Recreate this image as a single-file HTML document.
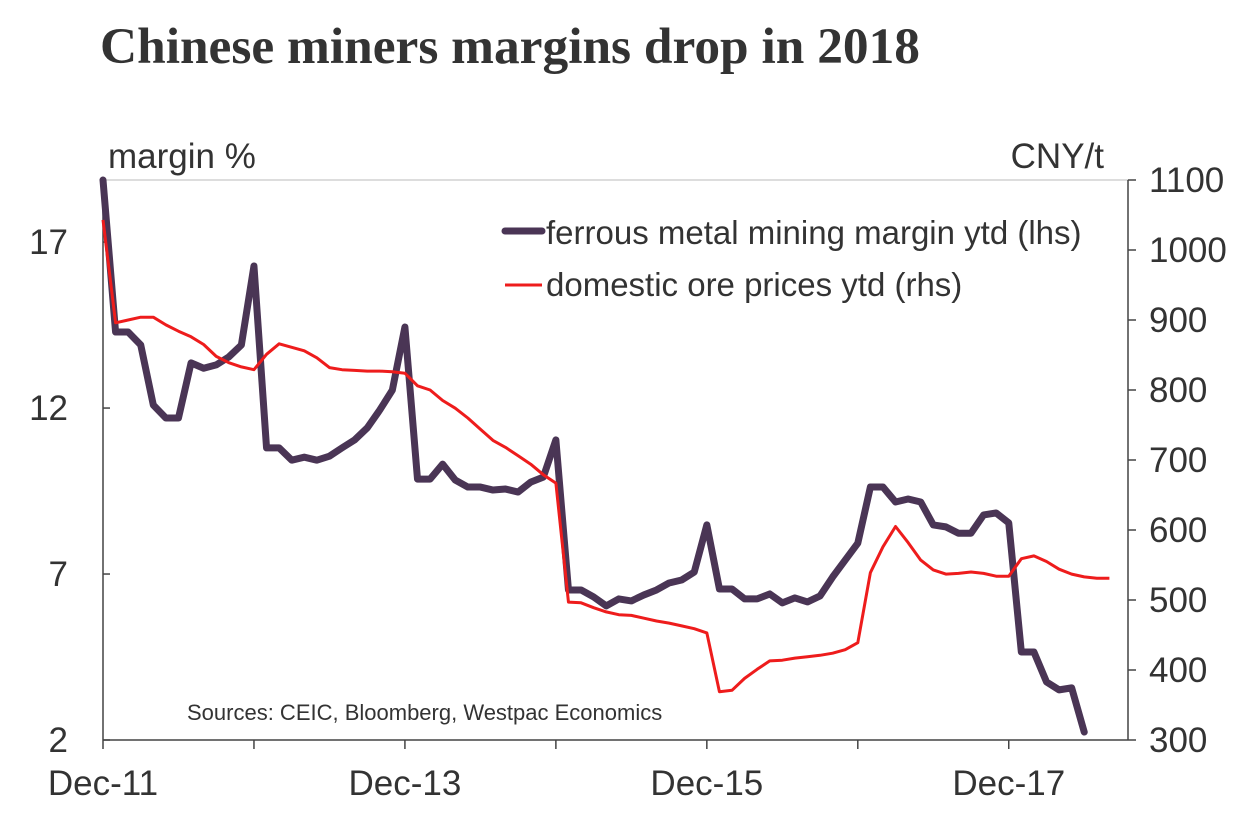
<!DOCTYPE html>
<html><head><meta charset="utf-8"><style>
body{margin:0;background:#fff;}
svg{display:block;font-family:"Liberation Sans",sans-serif;}
</style></head><body>
<svg id="chart" width="1240" height="826" viewBox="0 0 1240 826">
<text x="100" y="63" font-family="Liberation Serif,serif" font-weight="bold" font-size="51" fill="#333" textLength="820" lengthAdjust="spacingAndGlyphs">Chinese miners margins drop in 2018</text>
<text x="108" y="168" font-size="35" fill="#333">margin %</text>
<text x="1104" y="168" font-size="35" fill="#333" text-anchor="end">CNY/t</text>
<g id="axes"></g>
<g id="series"></g>
<g>
<line x1="505" y1="231" x2="542" y2="231" stroke="#4a3555" stroke-width="7" stroke-linecap="round"/>
<text x="546" y="244" font-size="33" fill="#333">ferrous metal mining margin ytd (lhs)</text>
<line x1="505" y1="285" x2="542" y2="285" stroke="#ee1c1c" stroke-width="3"/>
<text x="546" y="296" font-size="33" fill="#333">domestic ore prices ytd (rhs)</text>
</g>
<text x="187" y="720" font-size="22" fill="#333">Sources: CEIC, Bloomberg,  Westpac Economics</text>
</svg>
<script>
const marginValues=[18.87,14.29,14.29,13.90,12.09,11.70,11.70,13.36,13.20,13.30,13.54,13.90,16.28,
10.80,10.80,10.43,10.52,10.43,10.55,10.80,11.04,11.40,11.94,12.54,14.44,
9.86,9.86,10.31,9.83,9.62,9.62,9.53,9.56,9.47,9.77,9.92,11.04,
6.52,6.52,6.31,6.04,6.25,6.19,6.37,6.52,6.73,6.82,7.06,8.48,
6.55,6.55,6.25,6.25,6.40,6.13,6.28,6.16,6.34,6.91,7.42,7.93,
9.62,9.62,9.17,9.26,9.17,8.48,8.42,8.23,8.23,8.78,8.84,8.54,
4.65,4.65,3.75,3.51,3.57,2.24];
const oreValues=[1043,896,900,904,904,893,884,876,865,848,839,833,829,
851,866,861,856,846,832,829,828,827,827,826,824,
806,800,785,774,760,744,728,718,706,694,679,667,
497,496,489,483,479,478,474,470,467,463,459,453,
369,371,388,401,413,414,417,419,421,424,429,439,
539,576,605,582,557,543,537,538,540,538,534,534,
559,563,555,544,537,533,531,531];
const xTickLabels=["Dec-11","Dec-13","Dec-15","Dec-17"];
const leftTicks=[2,7,12,17];
const rightTicks=[300,400,500,600,700,800,900,1000,1100];

const NS="http://www.w3.org/2000/svg";
const X0=103,X1=1128,YT=180,YB=740,MPX=12.58;
const xm=i=>X0+i*MPX;
const yl=v=>YB-(v-2)*(YB-YT)/16.87;
const yr=v=>YB-(v-300)*(YB-YT)/800;
function mk(tag,attrs,parent){const e=document.createElementNS(NS,tag);for(const k in attrs)e.setAttribute(k,attrs[k]);parent.appendChild(e);return e;}
const ax=document.getElementById('axes');
let e;
e=mk('rect',{x:X0,y:YT,width:X1-X0,height:YB-YT,fill:'none',stroke:'#bbb','stroke-width':1},ax);


e=mk('line',{x1:X0,y1:YT,x2:X0,y2:YB,stroke:'#444','stroke-width':1.5},ax);


e=mk('line',{x1:X1,y1:YT,x2:X1,y2:YB,stroke:'#444','stroke-width':1.5},ax);


e=mk('line',{x1:X0,y1:YB,x2:X1,y2:YB,stroke:'#444','stroke-width':1.5},ax);


leftTicks.forEach(v=>{const y=yl(v);
 e=mk('line',{x1:X0,y1:y,x2:X0+7,y2:y,stroke:'#444','stroke-width':1.5},ax);
 
 
 e=mk('text',{x:68,y:y+12,'font-size':35,fill:'#333','text-anchor':'end'},ax);e.textContent=v;
 
 });
rightTicks.forEach(v=>{const y=yr(v);
 e=mk('line',{x1:X1,y1:y,x2:X1+8,y2:y,stroke:'#444','stroke-width':1.5},ax);
 
 
 e=mk('text',{x:1149,y:y+12,'font-size':35,fill:'#333'},ax);e.textContent=v;
 
 });
for(let k=0;k<7;k++){const x=xm(k*12);
 e=mk('line',{x1:x,y1:YB,x2:x,y2:YB+9,stroke:'#444','stroke-width':1.5},ax);
 
 }
xTickLabels.forEach((l,k)=>{
 e=mk('text',{x:xm(k*24),y:795,'font-size':35,fill:'#333','text-anchor':'middle'},ax);e.textContent=l;
 
 });
const sg=document.getElementById('series');
e=mk('polyline',{points:oreValues.map((v,i)=>xm(i)+','+yr(v)).join(' '),fill:'none',stroke:'#ee1c1c','stroke-width':3,'stroke-linejoin':'round'},sg);


e=mk('polyline',{points:marginValues.map((v,i)=>xm(i)+','+yl(v)).join(' '),fill:'none',stroke:'#4a3555','stroke-width':7,'stroke-linejoin':'round','stroke-linecap':'round'},sg);


sg.appendChild(sg.firstChild);
</script>
</body></html>
